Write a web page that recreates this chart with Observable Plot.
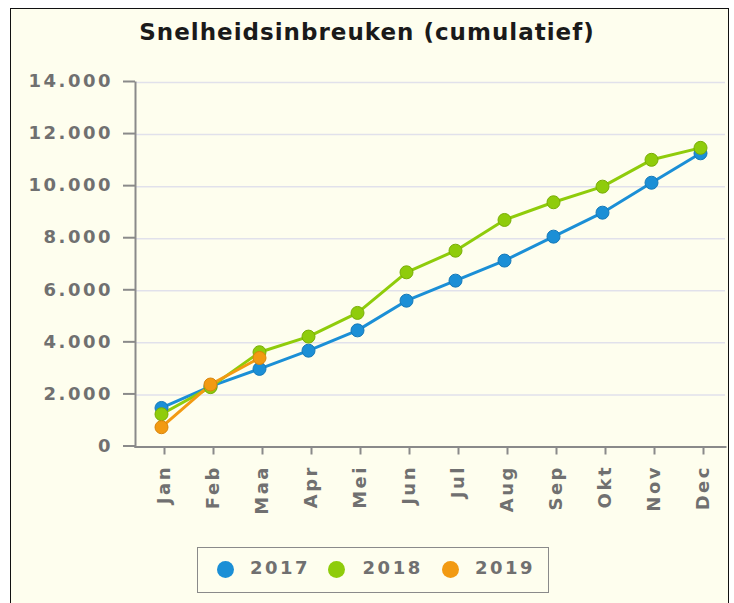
<!DOCTYPE html>
<html><head><meta charset="utf-8">
<script src="https://cdn.jsdelivr.net/npm/d3@7"></script>
<script src="https://cdn.jsdelivr.net/npm/@observablehq/plot@0.6"></script>
<style>
html,body{margin:0;padding:0;}
body{background:#fff;width:734px;height:603px;overflow:hidden;position:relative;font-family:"DejaVu Sans",sans-serif;}
#frame{position:absolute;left:10px;top:8px;width:717px;height:640px;border:1.5px solid #111;background:#fefeee;}
#title{position:absolute;left:0;top:18.5px;width:734px;text-align:center;font-weight:bold;font-size:23px;line-height:27px;letter-spacing:1px;color:#1a1a1a;}
#chart{position:absolute;left:0;top:0;}
#legend{position:absolute;left:197px;top:547px;width:352px;height:46px;box-sizing:border-box;border:1.5px solid #8a8a8a;}
#legend .dot{position:absolute;width:17px;height:17px;border-radius:50%;top:12.5px;}
#legend .lab{position:absolute;top:9px;font-weight:bold;font-size:18px;line-height:22px;letter-spacing:2.5px;color:#707070;}
</style></head>
<body>
<div id="frame"></div>
<div id="title">Snelheidsinbreuken (cumulatief)</div>
<div id="chart"></div>
<div id="legend"></div>
<script>
const months = ["Jan","Feb","Maa","Apr","Mei","Jun","Jul","Aug","Sep","Okt","Nov","Dec"];
const years = ["2017","2018","2019"];
const v2017 = [1500,2330,3000,3700,4480,5620,6390,7160,8080,9000,10150,11280];
const v2018 = [1260,2300,3640,4240,5150,6710,7540,8720,9400,10000,11030,11490];
const v2019 = [760,2400,3420];
const yTicks = [0,2000,4000,6000,8000,10000,12000,14000];
const colors = ["#1b8fd6","#8fcc0b","#f29a12"];
const outlines = ["#1679b8","#79ae06","#d9850c"];

const series = [v2017, v2018, v2019];
const data = [];
series.forEach((vals, i) => vals.forEach((v, j) => data.push({year: years[i], month: months[j], value: v})));

const fmt = d => d3.format(",")(d).replace(/,/g, ".");

const chart = Plot.plot({
  width: 734, height: 540,
  marginLeft: 135, marginRight: 9, marginTop: 82, marginBottom: 93.5,
  style: {background: "transparent", fontFamily: "DejaVu Sans, sans-serif", fontWeight: "bold", fontSize: "18px", color: "#707070", letterSpacing: "2.5px", overflow: "visible"},
  x: {type: "point", domain: months, padding: 0.5, axis: null, label: null},
  y: {domain: [0, 14000], axis: null, label: null},
  color: {domain: years, range: colors},
  marks: [
    Plot.gridY(yTicks.slice(1), {stroke: "#e1e1eb", strokeOpacity: 1, strokeWidth: 1.5}),
    Plot.axisY(yTicks, {tickSize: 12, tickPadding: 10.5, tickFormat: fmt, stroke: "#8a8a8a", strokeWidth: 2, fill: "#707070", dy: -1, label: null}),
    Plot.axisX(months, {tickRotate: -90, tickSize: 8, tickPadding: 10, stroke: "#8a8a8a", strokeWidth: 2, fill: "#707070", dx: 3, label: null}),
    Plot.frame({anchor: "left", stroke: "#8a8a8a", strokeWidth: 2}),
    Plot.frame({anchor: "bottom", stroke: "#8a8a8a", strokeWidth: 2}),
    Plot.line(data, {x: "month", y: "value", z: "year", stroke: "year", strokeWidth: 3}),
    Plot.dot(data, {x: "month", y: "value", fill: "year", stroke: d => outlines[years.indexOf(d.year)], strokeWidth: 1, r: 6.5})
  ]
});
document.getElementById("chart").appendChild(chart);

const legend = document.getElementById("legend");
const dotX = [18.5, 130, 244];
const labX = [52, 164.6, 277];
years.forEach((y, i) => {
  const d = document.createElement("div");
  d.className = "dot"; d.style.left = dotX[i] + "px"; d.style.background = colors[i];
  legend.appendChild(d);
  const t = document.createElement("div");
  t.className = "lab"; t.style.left = labX[i] + "px"; t.textContent = y;
  legend.appendChild(t);
});
</script>
</body></html>
